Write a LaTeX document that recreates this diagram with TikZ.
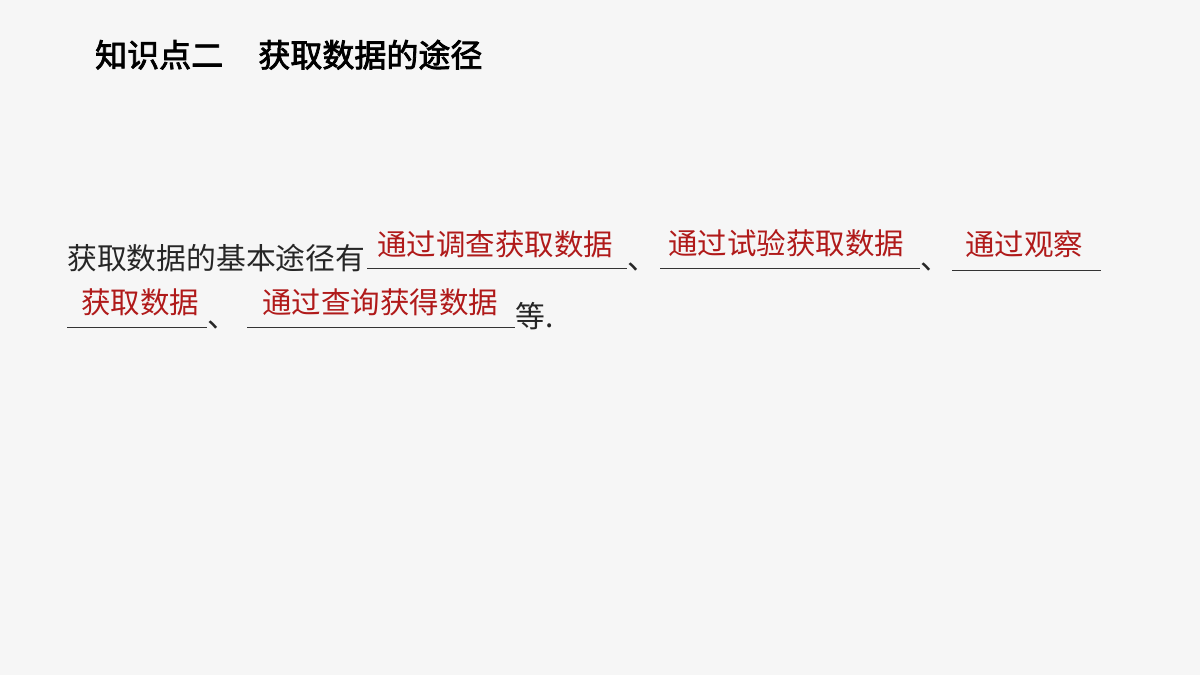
\documentclass[tikz,border=0pt]{standalone}
\usepackage{fontspec}
\newfontfamily\cjk{Noto Sans CJK SC}
\newfontfamily\cjkb{Noto Sans CJK SC}[FakeBold=2.5]
\definecolor{bg}{HTML}{F6F6F6}
\definecolor{ans}{HTML}{B01A1A}
\begin{document}
\begin{tikzpicture}[x=1pt,y=-1pt,
  body/.style={anchor=base west,inner sep=0,font=\cjk\fontsize{29.8}{30}\selectfont,text=black!85},
  red/.style={anchor=base,inner sep=0,font=\cjk\fontsize{29.5}{30}\selectfont,text=ans},
  ul/.style={line width=0.9pt,black!80}]
\fill[bg] (0,0) rectangle (1200,675);
\useasboundingbox (0,0) rectangle (1200,675);
\node[anchor=base west,inner sep=0,font=\cjkb\fontsize{32}{32}\selectfont] (title) at (95,67) {知识点二\hspace{1.1em}获取数据的途径};
\node[body] (t1) at (67,269) {获取数据的基本途径有};
\draw[ul] (367,268) coordinate (a1) -- (627,268) coordinate (a2);
\node[red] (r1) at (495,255) {通过调查获取数据};
\node[body] (d1) at (627,269) {、};
\draw[ul] (660,268) coordinate (b1) -- (920,268) coordinate (b2);
\node[red] (r2) at (786,254) {通过试验获取数据};
\node[body] (d2) at (920,269) {、};
\draw[ul] (952,270) coordinate (c1) -- (1101,270) coordinate (c2);
\node[red] (r3) at (1024,255) {通过观察};
\draw[ul] (67,327) coordinate (e1) -- (207,327) coordinate (e2);
\node[red] (r4) at (140,313) {获取数据};
\node[body] (d3) at (207,327) {、};
\draw[ul] (247,327) coordinate (f1) -- (515,327) coordinate (f2);
\node[red] (r5) at (380,313) {通过查询获得数据};
\node[body] (t2) at (515,327) {等.};
\end{tikzpicture}
\end{document}
